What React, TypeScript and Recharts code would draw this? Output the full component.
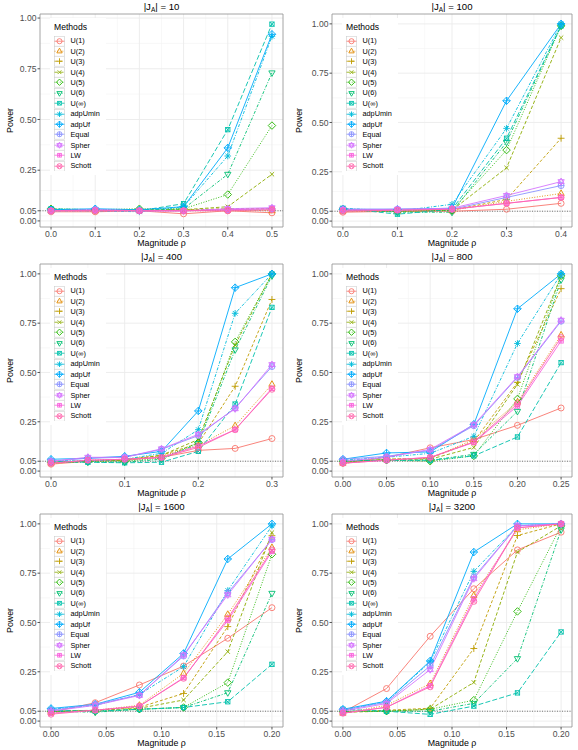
import React from "react";
import {
  CartesianGrid,
  Legend,
  Line,
  LineChart,
  ReferenceArea,
  ReferenceLine,
  XAxis,
  YAxis,
} from "recharts";

const FONT = '"Liberation Sans", Arial, Helvetica, sans-serif';

const METHODS = [
  "U(1)", "U(2)", "U(3)", "U(4)", "U(5)", "U(6)", "U(∞)",
  "adpUmin", "adpUf", "Equal", "Spher", "LW", "Schott",
];

// ggplot default hue palette for 13 levels
const COLORS = [
  "#F8766D", "#E18A00", "#BE9C00", "#8CAB00", "#24B700", "#00BE70", "#00C1AB",
  "#00BBDA", "#00ACFC", "#8B93FF", "#D575FE", "#F962DD", "#FF65AC",
];

const DASHES = [
  undefined, "1 1.6", "3 2", "3.5 2", "1 1.6", "1 1.6 3 1.6", "5 2.2",
  "3 1.5 1 1.5", undefined, undefined, undefined, undefined, undefined,
];

const Y_TICKS = [0, 0.05, 0.25, 0.5, 0.75, 1];
const Y_MINOR = [0.025, 0.15, 0.375, 0.625, 0.875];

// |J_A| = 10
const X_J10 = [0, 0.1, 0.2, 0.3, 0.4, 0.5];
const XT_J10 = [0, 0.1, 0.2, 0.3, 0.4, 0.5];
const POWER_J10 = [
  [0.045, 0.045, 0.05, 0.035, 0.05, 0.04],
  [0.05, 0.05, 0.05, 0.05, 0.055, 0.05],
  [0.055, 0.05, 0.055, 0.055, 0.06, 0.06],
  [0.055, 0.05, 0.055, 0.055, 0.07, 0.23],
  [0.06, 0.055, 0.06, 0.06, 0.13, 0.47],
  [0.055, 0.055, 0.05, 0.06, 0.23, 0.73],
  [0.06, 0.055, 0.05, 0.085, 0.45, 0.97],
  [0.05, 0.05, 0.045, 0.07, 0.32, 0.91],
  [0.055, 0.06, 0.055, 0.07, 0.36, 0.92],
  [0.05, 0.055, 0.05, 0.05, 0.055, 0.06],
  [0.05, 0.055, 0.05, 0.05, 0.06, 0.065],
  [0.05, 0.05, 0.05, 0.05, 0.055, 0.06],
  [0.05, 0.05, 0.05, 0.05, 0.05, 0.055],
];

// |J_A| = 100
const X_J100 = [0, 0.1, 0.2, 0.3, 0.4];
const XT_J100 = [0, 0.1, 0.2, 0.3, 0.4];
const POWER_J100 = [
  [0.045, 0.05, 0.05, 0.06, 0.09],
  [0.05, 0.05, 0.055, 0.1, 0.14],
  [0.055, 0.055, 0.055, 0.11, 0.42],
  [0.055, 0.05, 0.055, 0.27, 0.93],
  [0.06, 0.05, 0.055, 0.36, 0.99],
  [0.06, 0.045, 0.045, 0.4, 0.99],
  [0.065, 0.035, 0.06, 0.42, 0.99],
  [0.065, 0.05, 0.085, 0.47, 1.0],
  [0.06, 0.06, 0.065, 0.61, 1.0],
  [0.055, 0.06, 0.06, 0.12, 0.18],
  [0.06, 0.06, 0.065, 0.13, 0.2],
  [0.055, 0.055, 0.06, 0.09, 0.12],
  [0.05, 0.055, 0.06, 0.09, 0.12],
];

// |J_A| = 400
const X_J400 = [0, 0.05, 0.1, 0.15, 0.2, 0.25, 0.3];
const XT_J400 = [0, 0.1, 0.2, 0.3];
const POWER_J400 = [
  [0.035, 0.05, 0.055, 0.07, 0.105, 0.115, 0.165],
  [0.04, 0.055, 0.06, 0.075, 0.13, 0.23, 0.44],
  [0.04, 0.05, 0.06, 0.08, 0.14, 0.43, 0.87],
  [0.045, 0.05, 0.055, 0.08, 0.16, 0.64, 1.0],
  [0.045, 0.05, 0.05, 0.065, 0.145, 0.655, 1.0],
  [0.045, 0.045, 0.045, 0.06, 0.14, 0.615, 0.99],
  [0.05, 0.045, 0.042, 0.045, 0.1, 0.34, 0.83],
  [0.055, 0.05, 0.06, 0.09, 0.21, 0.8, 1.0],
  [0.06, 0.065, 0.075, 0.1, 0.305, 0.93, 1.0],
  [0.05, 0.065, 0.07, 0.11, 0.18, 0.32, 0.53],
  [0.05, 0.07, 0.07, 0.113, 0.186, 0.316, 0.54],
  [0.04, 0.055, 0.06, 0.07, 0.127, 0.21, 0.42],
  [0.04, 0.055, 0.06, 0.068, 0.12, 0.21, 0.415],
];

// |J_A| = 800
const X_J800 = [0, 0.05, 0.1, 0.15, 0.2, 0.25];
const XT_J800 = [0, 0.05, 0.1, 0.15, 0.2, 0.25];
const POWER_J800 = [
  [0.04, 0.07, 0.118, 0.16, 0.232, 0.32],
  [0.04, 0.06, 0.065, 0.16, 0.35, 0.69],
  [0.04, 0.06, 0.065, 0.15, 0.45, 0.925],
  [0.045, 0.06, 0.06, 0.12, 0.44, 0.99],
  [0.05, 0.055, 0.05, 0.077, 0.366, 0.99],
  [0.05, 0.055, 0.055, 0.085, 0.303, 0.97],
  [0.055, 0.055, 0.055, 0.077, 0.173, 0.55],
  [0.055, 0.07, 0.09, 0.176, 0.647, 1.0],
  [0.06, 0.092, 0.097, 0.237, 0.823, 1.0],
  [0.06, 0.075, 0.105, 0.23, 0.475, 0.76],
  [0.05, 0.07, 0.11, 0.235, 0.479, 0.765],
  [0.04, 0.055, 0.07, 0.145, 0.33, 0.66],
  [0.04, 0.055, 0.069, 0.148, 0.341, 0.677],
];

// |J_A| = 1600
const X_J1600 = [0, 0.04, 0.08, 0.12, 0.16, 0.2];
const XT_J1600 = [0, 0.05, 0.1, 0.15, 0.2];
const POWER_J1600 = [
  [0.045, 0.093, 0.183, 0.279, 0.42, 0.575],
  [0.045, 0.055, 0.08, 0.242, 0.541, 0.88],
  [0.045, 0.055, 0.07, 0.14, 0.479, 0.94],
  [0.05, 0.055, 0.065, 0.107, 0.352, 0.956],
  [0.05, 0.05, 0.06, 0.069, 0.195, 0.846],
  [0.05, 0.045, 0.06, 0.069, 0.144, 0.648],
  [0.055, 0.05, 0.06, 0.069, 0.098, 0.288],
  [0.06, 0.08, 0.135, 0.276, 0.662, 0.99],
  [0.064, 0.085, 0.146, 0.343, 0.822, 1.0],
  [0.055, 0.085, 0.132, 0.33, 0.65, 0.92],
  [0.05, 0.08, 0.13, 0.335, 0.64, 0.922],
  [0.04, 0.055, 0.075, 0.22, 0.51, 0.86],
  [0.035, 0.055, 0.076, 0.217, 0.521, 0.868],
];

// |J_A| = 3200
const X_J3200 = [0, 0.04, 0.08, 0.12, 0.16, 0.2];
const XT_J3200 = [0, 0.05, 0.1, 0.15, 0.2];
const POWER_J3200 = [
  [0.045, 0.165, 0.43, 0.671, 0.868, 0.958],
  [0.04, 0.08, 0.19, 0.637, 0.97, 1.0],
  [0.045, 0.055, 0.065, 0.368, 0.941, 1.0],
  [0.045, 0.05, 0.06, 0.196, 0.857, 0.99],
  [0.05, 0.05, 0.06, 0.106, 0.556, 0.99],
  [0.05, 0.05, 0.05, 0.09, 0.317, 0.97],
  [0.06, 0.05, 0.034, 0.076, 0.143, 0.452],
  [0.055, 0.1, 0.3, 0.759, 0.99, 1.0],
  [0.06, 0.101, 0.305, 0.857, 1.0, 1.0],
  [0.055, 0.095, 0.28, 0.73, 0.99, 1.0],
  [0.05, 0.089, 0.261, 0.722, 0.99, 1.0],
  [0.04, 0.07, 0.18, 0.62, 0.98, 1.0],
  [0.04, 0.07, 0.174, 0.607, 0.98, 1.0],
];

const PANELS = [
  { size: "10", xs: X_J10, xTicks: XT_J10, power: POWER_J10, digits: 1, yHi: 1.02 },
  { size: "100", xs: X_J100, xTicks: XT_J100, power: POWER_J100, digits: 1, yHi: 1.05 },
  { size: "400", xs: X_J400, xTicks: XT_J400, power: POWER_J400, digits: 1, yHi: 1.05 },
  { size: "800", xs: X_J800, xTicks: XT_J800, power: POWER_J800, digits: 2, yHi: 1.05 },
  { size: "1600", xs: X_J1600, xTicks: XT_J1600, power: POWER_J1600, digits: 2, yHi: 1.05 },
  { size: "3200", xs: X_J3200, xTicks: XT_J3200, power: POWER_J3200, digits: 2, yHi: 1.05 },
];

const W = 289;
const H = 250;
const Y_LO = -0.03;

function Marker({ shape, x, y, color, s = 1 }: any) {
  const r = 3 * s;
  const k = r * 0.72;
  const d = r * 1.25;
  const st = { stroke: color, strokeWidth: 0.9, fill: "none" };
  const plus = (e: number) => `M${x - e},${y}H${x + e}M${x},${y - e}V${y + e}`;
  const cross = (e: number) =>
    `M${x - e},${y - e}L${x + e},${y + e}M${x - e},${y + e}L${x + e},${y - e}`;
  const tri = (dir: number) =>
    `M${x},${y - dir * r * 1.2}L${x + r * 1.05},${y + dir * r * 0.65}L${x - r * 1.05},${y + dir * r * 0.65}Z`;
  const dia = `M${x},${y - d}L${x + d},${y}L${x},${y + d}L${x - d},${y}Z`;
  const circle = <circle cx={x} cy={y} r={r} {...st} />;
  const square = <rect x={x - k} y={y - k} width={2 * k} height={2 * k} {...st} />;
  switch (shape) {
    case 0:
      return circle;
    case 1:
      return <path d={tri(1)} {...st} />;
    case 2:
      return <path d={plus(r * 1.15)} {...st} />;
    case 3:
      return <path d={cross(k)} {...st} />;
    case 4:
      return <path d={dia} {...st} />;
    case 5:
      return <path d={tri(-1)} {...st} />;
    case 6:
      return (
        <g>
          {square}
          <path d={cross(k)} {...st} />
        </g>
      );
    case 7:
      return <path d={plus(r * 1.1) + cross(r * 0.78)} {...st} />;
    case 8:
      return <path d={dia + plus(d)} {...st} />;
    case 9:
      return (
        <g>
          {circle}
          <path d={plus(r)} {...st} />
        </g>
      );
    case 10:
      return <path d={tri(1) + tri(-1)} {...st} />;
    case 11:
      return (
        <g>
          {square}
          <path d={plus(k)} {...st} />
        </g>
      );
    default:
      return (
        <g>
          {circle}
          <path d={cross(r * 0.707)} {...st} />
        </g>
      );
  }
}

function MethodsLegend() {
  return (
    <div style={{ background: "#fff", padding: "4px 6px 4px 4px", fontFamily: FONT }}>
      <div style={{ fontSize: 8.6, lineHeight: "11px", color: "#000", marginBottom: 2.5 }}>
        Methods
      </div>
      {METHODS.map((m, i) => (
        <div key={m} style={{ display: "flex", alignItems: "center", height: 10.44 }}>
          <svg width={11} height={10.44} style={{ display: "block" }}>
            <rect x={0.5} y={0.25} width={10} height={9.94} fill="#fff" stroke="#CCCCCC" strokeWidth={0.6} />
            <line x1={0.5} x2={10.5} y1={5.22} y2={5.22} stroke={COLORS[i]} strokeWidth={0.8} strokeDasharray={DASHES[i]} />
            <Marker shape={i} x={5.5} y={5.22} color={COLORS[i]} s={0.85} />
          </svg>
          <span style={{ fontSize: 7.3, color: "#000", marginLeft: 5.5, whiteSpace: "nowrap" }}>{m}</span>
        </div>
      ))}
    </div>
  );
}

function PowerPanel({ panel, col }: any) {
  const { size, xs, xTicks, power, digits, yHi } = panel;
  const marginLeft = col === 0 ? 10 : 13;
  const plotLeft = marginLeft + 30;
  const rows = xs.map((x: number, i: number) => {
    const row: Record<string, number> = { x };
    power.forEach((s: number[], j: number) => {
      row[`m${j}`] = s[i];
    });
    return row;
  });
  const span = xs[xs.length - 1] - xs[0];
  const xDomain = [xs[0] - span * 0.05, xs[xs.length - 1] + span * 0.05];
  const xMinor = xTicks.slice(1).map((t: number, i: number) => (t + xTicks[i]) / 2);

  const yTitle = (p: any) => {
    const vb = p.viewBox || { y: 14, height: 213 };
    const cy = vb.y + vb.height / 2;
    return (
      <text x={9.5} y={cy} transform={`rotate(-90 9.5 ${cy})`} textAnchor="middle" dominantBaseline="central" fontSize={8.8} fill="#000" fontFamily={FONT}>
        Power
      </text>
    );
  };
  const xTitle = (p: any) => {
    const vb = p.viewBox || { x: plotLeft, y: 227, width: 243 };
    return (
      <text x={vb.x + vb.width / 2} y={vb.y + 16} textAnchor="middle" dominantBaseline="central" fontSize={8.8} fill="#000" fontFamily={FONT}>
        Magnitude ρ
      </text>
    );
  };

  return (
    <div style={{ position: "relative", width: W, height: H }}>
      <div
        style={{
          position: "absolute", left: plotLeft, width: W - 6 - plotLeft, top: 1,
          textAlign: "center", fontSize: 9.6, lineHeight: "12px", fontFamily: FONT, color: "#000", zIndex: 2,
        }}
      >
        |J<sub style={{ fontSize: 6.5, verticalAlign: "-2px", lineHeight: 0 }}>A</sub>| = {size}
      </div>
      <LineChart width={W} height={H} data={rows} margin={{ top: 14, right: 6, bottom: 0, left: marginLeft }}>
        <CartesianGrid horizontalValues={Y_MINOR} verticalValues={xMinor} stroke="#F4F4F4" strokeWidth={0.6} />
        <CartesianGrid horizontalValues={Y_TICKS} verticalValues={xTicks} stroke="#EBEBEB" strokeWidth={0.9} />
        <XAxis
          type="number" dataKey="x" domain={xDomain} ticks={xTicks} interval={0} allowDataOverflow
          height={23} axisLine={false} tickSize={2.5} tickMargin={1}
          tickLine={{ stroke: "#555" }}
          tick={{ fontSize: 8.6, fill: "#4D4D4D", fontFamily: FONT }}
          tickFormatter={(v: number) => v.toFixed(digits)}
          label={{ content: xTitle }}
        />
        <YAxis
          type="number" domain={[Y_LO, yHi]} ticks={Y_TICKS} interval={0} allowDataOverflow
          width={30} axisLine={false} tickSize={2.5} tickMargin={1}
          tickLine={{ stroke: "#555" }}
          tick={{ fontSize: 8.6, fill: "#4D4D4D", fontFamily: FONT }}
          tickFormatter={(v: number) => v.toFixed(2)}
          label={{ content: yTitle }}
        />
        <ReferenceLine y={0.05} stroke="#555" strokeWidth={0.8} strokeDasharray="1 1.5" />
        {METHODS.map((m, j) => (
          <Line
            key={m}
            dataKey={`m${j}`}
            name={m}
            type="linear"
            stroke={COLORS[j]}
            strokeWidth={0.9}
            strokeDasharray={DASHES[j]}
            isAnimationActive={false}
            activeDot={false}
            dot={(p: any) => (
              <Marker key={`${m}-${p.index}`} shape={j} x={p.cx} y={p.cy} color={COLORS[j]} />
            )}
          />
        ))}
        <ReferenceArea
          x1={xDomain[0]} x2={xDomain[1]} y1={Y_LO} y2={yHi}
          fill="none" stroke="#9A9A9A" strokeWidth={0.9} ifOverflow="visible"
        />
        <Legend
          layout="vertical" align="center" verticalAlign="middle"
          wrapperStyle={{ left: plotLeft + 10, top: 18, width: "auto" }}
          content={() => <MethodsLegend />}
        />
      </LineChart>
    </div>
  );
}

export default function App() {
  return (
    <div style={{ position: "absolute", left: 0, top: 0, width: 578, height: 750, background: "#fff" }}>
      {PANELS.map((panel, i) => (
        <div key={panel.size} style={{ position: "absolute", left: (i % 2) * W, top: Math.floor(i / 2) * H }}>
          <PowerPanel panel={panel} col={i % 2} />
        </div>
      ))}
    </div>
  );
}
